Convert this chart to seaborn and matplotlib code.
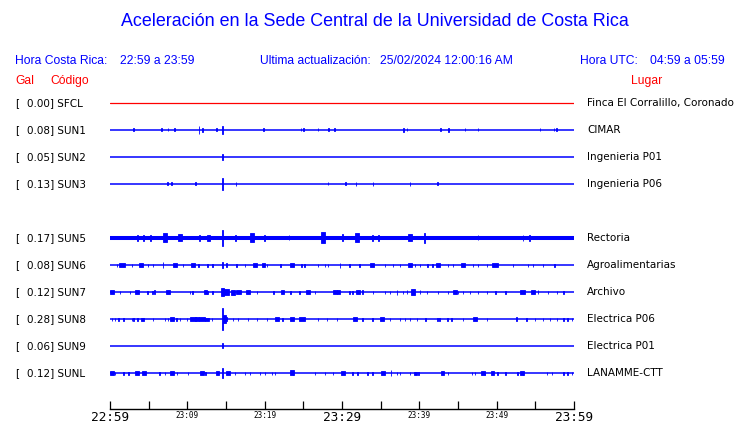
import matplotlib
matplotlib.use("Agg")
import matplotlib.pyplot as plt
import seaborn as sns
import pandas as pd

sns.set_theme(style="white")
plt.rcParams['font.family'] = ['DejaVu Sans']

BLUE = "#0000ff"
RED = "#ff0000"

TITLE = "Aceleración en la Sede Central de la Universidad de Costa Rica"
hora_cr = "22:59 a 23:59"
ultima = "25/02/2024 12:00:16 AM"
hora_utc = "04:59 a 05:59"

codes = ["SFCL", "SUN1", "SUN2", "SUN3", "SUN5", "SUN6", "SUN7", "SUN8", "SUN9", "SUNL"]
gal = [0.00, 0.08, 0.05, 0.13, 0.17, 0.08, 0.12, 0.28, 0.06, 0.12]
places = ["Finca El Corralillo, Coronado", "CIMAR", "Ingenieria P01", "Ingenieria P06",
          "Rectoria", "Agroalimentarias", "Archivo", "Electrica P06", "Electrica P01",
          "LANAMME-CTT"]

# time axis (minutes after 22:59)
tick_min = [0, 5, 10, 15, 20, 25, 30, 35, 40, 45, 50, 55, 60]
tick_lab = ["22:59", "", "23:09", "", "23:19", "", "23:29", "", "23:39", "", "23:49", "", "23:59"]
big_ticks = ["22:59", "23:29", "23:59"]

# bursts: (minute, half-amplitude, duration-minutes)
SFCL = []
SUN1 = [(3.0, 1.5), (6.7, 1.5), (7.5, 1.5), (8.3, 1.5), (11.5, 4), (12.0, 2), (13.8, 1.5), (14.5, 4),
        (19.8, 1.5), (24.7, 1.5), (25.0, 1.5), (26.9, 1.5), (28.3, 1.5), (29.0, 1.5), (38.0, 2),
        (38.4, 1.5), (42.7, 1.5), (43.8, 2), (45.9, 1.5), (47.6, 1.5), (55.6, 1.5), (57.4, 1.5), (57.7, 1.5)]
SUN2 = [(14.5, 3)]
SUN3 = [(7.4, 1.5), (8.0, 1.5), (11.1, 1.5), (14.5, 6), (16.3, 2), (28.2, 1.5), (30.5, 1.5),
        (31.8, 2), (34.0, 2), (38.8, 2), (42.3, 1.5)]
SUN5 = [(3.6, 3), (4.3, 3), (5.2, 3), (7.1, 4.5, 0.5), (9.05, 3.5, 0.5), (11.6, 3), (12.7, 3, 0.4),
        (14.5, 8), (16.2, 3), (18.4, 4.5, 0.5), (20.0, 3), (23.15, 2.5), (27.5, 5.5, 0.5), (30.1, 3.5),
        (31.9, 4.5, 0.5), (33.9, 3), (34.7, 3), (38.8, 3.5, 0.6), (40.7, 5), (47.6, 2.5), (53.4, 3), (54.2, 3)]
SUN6 = [(0.9, 1.5), (1.55, 2, 0.9), (2.85, 1.5), (4.0, 2, 0.5), (4.9, 1.5), (5.55, 1.5), (6.85, 3),
        (8.4, 2, 0.6), (9.45, 1.5), (10.7, 2, 0.5), (11.4, 1.5), (12.65, 1.5), (13.3, 1.5), (14.5, 3),
        (15.1, 2), (16.4, 1.5), (17.45, 1.5), (18.75, 2, 0.5), (19.8, 2, 0.4), (20.3, 1.5), (22.0, 1.5),
        (23.55, 2, 0.5), (24.8, 1.5), (25.2, 1.5), (26.9, 1.5), (27.8, 1.5), (28.2, 1.5), (29.75, 2.5),
        (31.0, 1.5), (32.3, 1.5), (33.9, 2, 0.5), (35.55, 1.5), (36.6, 1.5), (37.5, 1.5), (38.8, 2, 0.5),
        (39.45, 1.5), (40.1, 1.5), (41.1, 1.5), (41.75, 1.5), (42.4, 2, 0.5), (43.7, 1.5), (44.35, 1.5),
        (45.65, 2, 0.5), (46.95, 1.5), (47.6, 1.5), (48.75, 1.5), (49.8, 2, 0.8), (52.1, 1.5), (54.05, 1.5),
        (54.7, 1.5), (56.0, 1.5), (57.5, 1.5)]
SUN7 = [(0.25, 2, 0.6), (1.3, 1.5), (2.6, 1.5), (3.5, 2, 0.5), (4.8, 1.5), (5.45, 1.5), (5.8, 2),
        (7.5, 2, 0.4), (10.35, 1.5), (10.7, 1.5), (12.3, 2, 0.4), (12.65, 1.5), (13.3, 1.5), (14.5, 4, 0.4),
        (15.0, 3, 0.8), (15.9, 2.5, 0.6), (16.6, 2, 0.6), (17.85, 2, 0.6), (19.0, 1.5), (21.1, 1.5),
        (22.25, 2, 0.4), (23.3, 1.5), (24.55, 1.5), (25.6, 2, 0.5), (26.5, 1.5), (29.1, 2, 0.6), (29.5, 2, 0.4),
        (31.0, 1.5), (31.4, 1.5), (32.05, 2, 0.5), (32.7, 2), (34.0, 1.5), (35.55, 1.5), (36.2, 1.5),
        (37.1, 2.5), (37.9, 1.5), (38.4, 2), (39.2, 3, 0.6), (40.1, 2), (41.0, 1.5), (42.4, 1.5), (43.7, 1.5),
        (44.6, 2, 0.6), (45.0, 1.5), (45.65, 1.5), (46.55, 1.5), (47.6, 1.5), (48.75, 1.5), (49.8, 1.5),
        (51.1, 1.5), (53.3, 2, 0.6), (54.7, 2, 0.5), (55.35, 2), (56.65, 1.5), (57.8, 1.5), (58.6, 1.5)]
SUN8 = [(0.25, 1.5), (0.65, 1.5), (1.05, 1.5), (1.7, 1.5), (2.85, 1.5), (3.0, 1.5), (3.6, 1.5),
        (4.25, 1.5, 0.4), (5.55, 1.5), (7.1, 1.5), (7.5, 1.5), (8.0, 2, 0.6), (8.55, 1.5), (9.05, 1.5),
        (9.95, 1.5), (10.75, 2, 0.8), (11.25, 2, 0.6), (11.9, 2, 0.8), (12.55, 1.5, 0.6), (13.2, 1.5),
        (14.5, 11), (14.75, 4, 0.4), (15.1, 2), (15.9, 1.5), (16.55, 1.5), (17.85, 1.5), (19.0, 1.5),
        (20.3, 1.5), (21.6, 2, 0.5), (22.35, 1.5), (23.55, 2, 0.5), (24.8, 2, 0.8), (26.9, 1.5), (28.05, 1.5),
        (29.35, 1.5), (31.7, 2, 0.5), (32.7, 1.5), (33.9, 1.5), (35.15, 2, 0.6), (36.2, 1.5), (37.5, 1.5),
        (38.15, 1.5), (38.8, 1.5), (39.7, 1.5), (40.75, 1.5), (42.3, 1.5), (42.65, 1.5), (43.6, 1.5),
        (44.2, 1.5), (45.65, 1.5), (47.2, 2, 0.5), (48.75, 1.5), (52.6, 2), (53.9, 1.5), (54.95, 1.5),
        (56.0, 1.5), (56.9, 1.5), (57.8, 1.5), (58.6, 1.5), (59.2, 1.5), (59.75, 1.5)]
SUN9 = [(14.5, 2.5)]
SUNL = [(0.25, 2, 0.6), (0.65, 1.5), (1.7, 1.5), (2.35, 1.5), (3.5, 2, 0.5), (4.4, 2, 0.5), (6.45, 1.5),
        (7.1, 1.5), (8.0, 2, 0.5), (8.65, 1.5), (10.1, 1.5), (11.9, 2, 0.5), (12.3, 1.5), (13.95, 2, 0.4),
        (14.5, 5), (15.25, 2, 0.5), (16.15, 1.5), (17.45, 1.5), (18.1, 1.5), (19.4, 1.5), (20.05, 1.5),
        (20.95, 1.5), (21.35, 1.5), (23.55, 2.5, 0.6), (23.65, 1.5), (26.5, 1.5), (27.8, 1.5), (28.85, 1.5),
        (30.15, 2, 0.5), (31.4, 1.5), (32.05, 1.5), (33.25, 1.5), (33.9, 1.5), (35.3, 2, 0.5), (36.35, 3),
        (37.1, 1.5), (37.5, 1.5), (38.8, 1.5), (39.45, 1.5, 0.4), (39.85, 1.5), (42.95, 2, 0.4), (43.7, 1.5),
        (46.8, 1.5), (47.2, 1.5), (48.25, 2, 0.5), (48.5, 1.5), (49.5, 2, 0.4), (50.15, 1.5), (51.1, 1.5),
        (52.65, 1.5), (53.3, 2, 0.5), (53.4, 1.5), (56.5, 1.5), (57.15, 1.5), (58.6, 1.5), (59.2, 1.5),
        (59.75, 1.5)]
bursts = [SFCL, SUN1, SUN2, SUN3, SUN5, SUN6, SUN7, SUN8, SUN9, SUNL]

# ---------------- layout ----------------
W, H = 740, 423
rows = [0, 1, 2, 3, 5, 6, 7, 8, 9, 10]      # SUN4 slot left empty
ROW0, ROWSTEP = 103, 27                     # pixel y of first row, spacing
X0, X1 = 110, 574
AX_TOP, AX_BOT = 88, 409

fig = plt.figure(figsize=(W / 100, H / 100), dpi=100)
fig.patch.set_facecolor("white")
ax = fig.add_axes([X0 / W, (H - AX_BOT) / H, (X1 - X0) / W, (AX_BOT - AX_TOP) / H])
ax.set_facecolor("white")
ax.set_xlim(0, 60)
ax.set_ylim((AX_BOT - ROW0) / ROWSTEP, (AX_TOP - ROW0) / ROWSTEP)

for i, (code, r) in enumerate(zip(codes, rows)):
    col = RED if code == "SFCL" else BLUE
    lw = 2.9 if code == "SUN5" else (0.9 if code == "SFCL" else 1.1)
    df = pd.DataFrame({"t": [0, 60], "y": [r, r]})
    sns.lineplot(data=df, x="t", y="y", ax=ax, color=col, linewidth=lw, legend=False)
    bl = bursts[i]
    if bl:
        ts = [b[0] for b in bl]
        amps = [b[1] / ROWSTEP for b in bl]
        ds = [b[2] if len(b) > 2 else 0.1 for b in bl]
        ax.bar(ts, [2 * a for a in amps], width=ds, bottom=[r - a for a in amps],
               color=col, edgecolor=col, linewidth=0.6)

for s in ["left", "top", "right"]:
    ax.spines[s].set_visible(False)
ax.spines["bottom"].set_color("black")
ax.spines["bottom"].set_linewidth(1.0)
ax.set_yticks([])
ax.set_xticks(tick_min)
ax.set_xticklabels(tick_lab)
ax.tick_params(axis="x", direction="in", length=6, width=0.9, color="black", pad=1.5,
               bottom=True)
for lab in ax.get_xticklabels():
    lab.set_family("DejaVu Sans Mono")
    if lab.get_text() in big_ticks:
        lab.set_fontsize(9.2)
    else:
        lab.set_fontsize(5.5)
    lab.set_color("black")
ax.set_xlabel("")
ax.set_ylabel("")
ax.grid(False)


def ftext(x, y, s, **kw):
    fig.text(x / W, 1 - y / H, s, **kw)


lib = ["Liberation Sans", "DejaVu Sans"]
HS = 8.75
ftext(375, 22, TITLE, ha="center", va="center", color=BLUE, fontsize=12.9, family=lib)
ftext(15, 61, "Hora Costa Rica:", ha="left", va="center", color=BLUE, fontsize=HS, family=lib)
ftext(120, 61, hora_cr, ha="left", va="center", color=BLUE, fontsize=HS, family=lib)
ftext(260, 61, "Ultima actualización:", ha="left", va="center", color=BLUE, fontsize=HS, family=lib)
ftext(380, 61, ultima, ha="left", va="center", color=BLUE, fontsize=HS, family=lib)
ftext(580, 61, "Hora UTC:", ha="left", va="center", color=BLUE, fontsize=HS, family=lib)
ftext(650, 61, hora_utc, ha="left", va="center", color=BLUE, fontsize=HS, family=lib)
ftext(15, 81, "Gal", ha="left", va="center", color=RED, fontsize=HS, family=lib)
ftext(50, 81, "Código", ha="left", va="center", color=RED, fontsize=HS, family=lib)
ftext(631, 81, "Lugar", ha="left", va="center", color=RED, fontsize=HS, family=lib)

for code, g, place, r in zip(codes, gal, places, rows):
    y = ROW0 + ROWSTEP * r
    ftext(15, y, "[", ha="left", va="center", color="black", fontsize=7.5)
    ftext(27, y, f"{g:.2f}] {code}", ha="left", va="center", color="black", fontsize=7.5)
    ftext(587, y, place, ha="left", va="center", color="black", fontsize=7.5)

fig.savefig("out.png", dpi=100, facecolor="white")
